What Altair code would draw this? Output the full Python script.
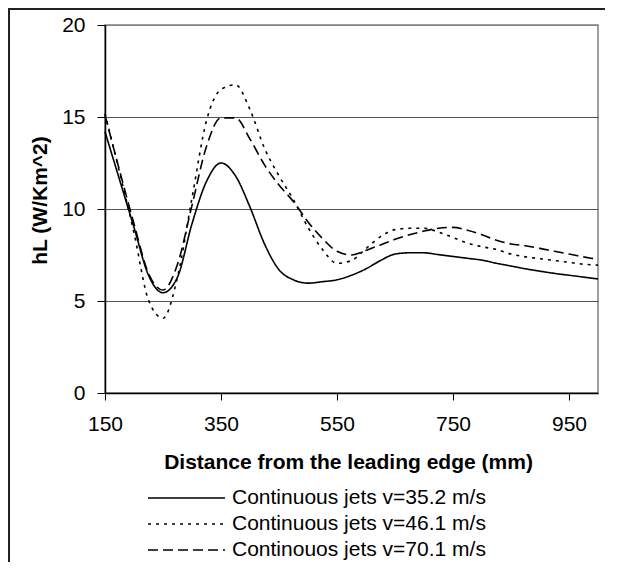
import altair as alt
import pandas as pd

# ---- data ----
x_mm = [150, 175, 200, 225, 250, 275, 300, 325, 350, 375, 400, 425, 450, 475, 500,
        525, 550, 575, 600, 625, 650, 675, 700, 725, 750, 775, 800, 825, 850, 875,
        900, 925, 950, 975, 1000]

hl_352 = [14.2, 11.6, 9.0, 6.4, 5.45, 6.3, 9.2, 11.5, 12.5, 11.8, 10.1, 8.1, 6.7, 6.15, 5.97,
          6.05, 6.15, 6.4, 6.75, 7.2, 7.55, 7.62, 7.62, 7.52, 7.42, 7.32, 7.22, 7.05, 6.9, 6.75,
          6.62, 6.5, 6.4, 6.3, 6.2]

hl_461 = [15.2, 12.0, 8.7, 5.05, 4.06, 6.3, 10.6, 14.8, 16.5, 16.75, 15.4, 13.3, 11.8, 10.5, 9.0,
          7.8, 7.05, 7.2, 7.85, 8.5, 8.88, 8.95, 8.95, 8.75, 8.45, 8.15, 7.95, 7.8, 7.55, 7.4,
          7.3, 7.2, 7.1, 7.0, 6.95]

hl_701 = [15.1, 12.1, 9.2, 6.5, 5.6, 7.0, 10.2, 13.4, 14.95, 14.95, 13.8, 12.4, 11.3, 10.4, 9.3,
          8.4, 7.7, 7.5, 7.75, 8.05, 8.35, 8.6, 8.8, 8.95, 9.0, 8.85, 8.6, 8.3, 8.1, 8.0,
          7.86, 7.7, 7.55, 7.4, 7.25]

series_names = ["Continuous jets v=35.2 m/s",
                "Continuous jets v=46.1 m/s",
                "Continouos jets v=70.1 m/s"]

x_ticks = [150, 350, 550, 750, 950]
y_ticks = [0, 5, 10, 15, 20]

# ---- build tables ----
rows = []
for name, vals in zip(series_names, [hl_352, hl_461, hl_701]):
    for xv, yv in zip(x_mm, vals):
        rows.append({"x": xv, "y": yv, "series": name})
df = pd.DataFrame(rows)

legend_df = pd.DataFrame({"series": series_names, "row": [0, 1, 2]})
frame_df = pd.DataFrame({"a": [0]})

FONT = "Liberation Sans"
dash_scale = alt.Scale(domain=series_names, range=[[1, 0], [3, 5], [10, 5]])

lines = alt.Chart(df).mark_line(color="black", strokeWidth=1.6, interpolate="monotone").encode(
    x=alt.X("x:Q",
            scale=alt.Scale(domain=[150, 1000], nice=False, zero=False),
            axis=alt.Axis(values=x_ticks, grid=False, title="Distance from the leading edge (mm)",
                          tickSize=7, labelPadding=13, labelFontSize=21, labelFlush=False,
                          titleFontSize=21, titleFontWeight="bold",
                          titleX=243, titleY=69, titleBaseline="middle", titleAlign="center")),
    y=alt.Y("y:Q",
            scale=alt.Scale(domain=[0, 20], nice=False),
            axis=alt.Axis(values=y_ticks, grid=True,
                          gridColor={"condition": {"test": "datum.value === 20", "value": "#808080"},
                                     "value": "#555555"},
                          gridWidth=1,
                          title="hL (W/Km^2)", tickSize=8, labelPadding=12, labelFontSize=21,
                          titleFontSize=21, titleFontWeight="bold", titleAngle=270,
                          titleX=-65, titleY=175, titleAlign="center", titleBaseline="middle")),
    strokeDash=alt.StrokeDash("series:N", scale=dash_scale, legend=None),
    detail="series:N",
)

leg_y = alt.Y("row:O", scale=alt.Scale(type="point", range=[473, 525], padding=0), axis=None)

leg_lines = alt.Chart(legend_df).mark_rule(color="black", strokeWidth=1.6).encode(
    x=alt.value(43), x2=alt.value(120), y=leg_y,
    strokeDash=alt.StrokeDash("series:N", scale=dash_scale, legend=None),
)

leg_text = alt.Chart(legend_df).mark_text(align="left", baseline="middle", font=FONT,
                                          fontSize=21, color="black").encode(
    x=alt.value(127), y=leg_y, text="series:N",
)

# outer chart frame (left and top edges), drawn as thin filled bars
frame_left = alt.Chart(frame_df).mark_rect(color="#222222", strokeWidth=0).encode(
    x=alt.value(-97), x2=alt.value(-95), y=alt.value(-17), y2=alt.value(540))
frame_top = alt.Chart(frame_df).mark_rect(color="#222222", strokeWidth=0).encode(
    x=alt.value(-97), x2=alt.value(500), y=alt.value(-17), y2=alt.value(-15))

chart = alt.layer(lines, leg_lines, leg_text, frame_left, frame_top).resolve_scale(
    y="independent"
).properties(
    width=493, height=368,
    autosize=alt.AutoSizeParams(type="none"),
    padding={"left": 97, "top": 17, "right": 15, "bottom": 169},
    background="white",
).configure_view(
    stroke="#808080", strokeWidth=1.5
).configure_axis(
    domainColor="black", domainWidth=1.5, tickColor="black", tickWidth=1,
    labelFont=FONT, labelColor="black", titleFont=FONT, titleColor="black",
)

chart.save("out.html", embed_options={"renderer": "svg", "actions": False})
